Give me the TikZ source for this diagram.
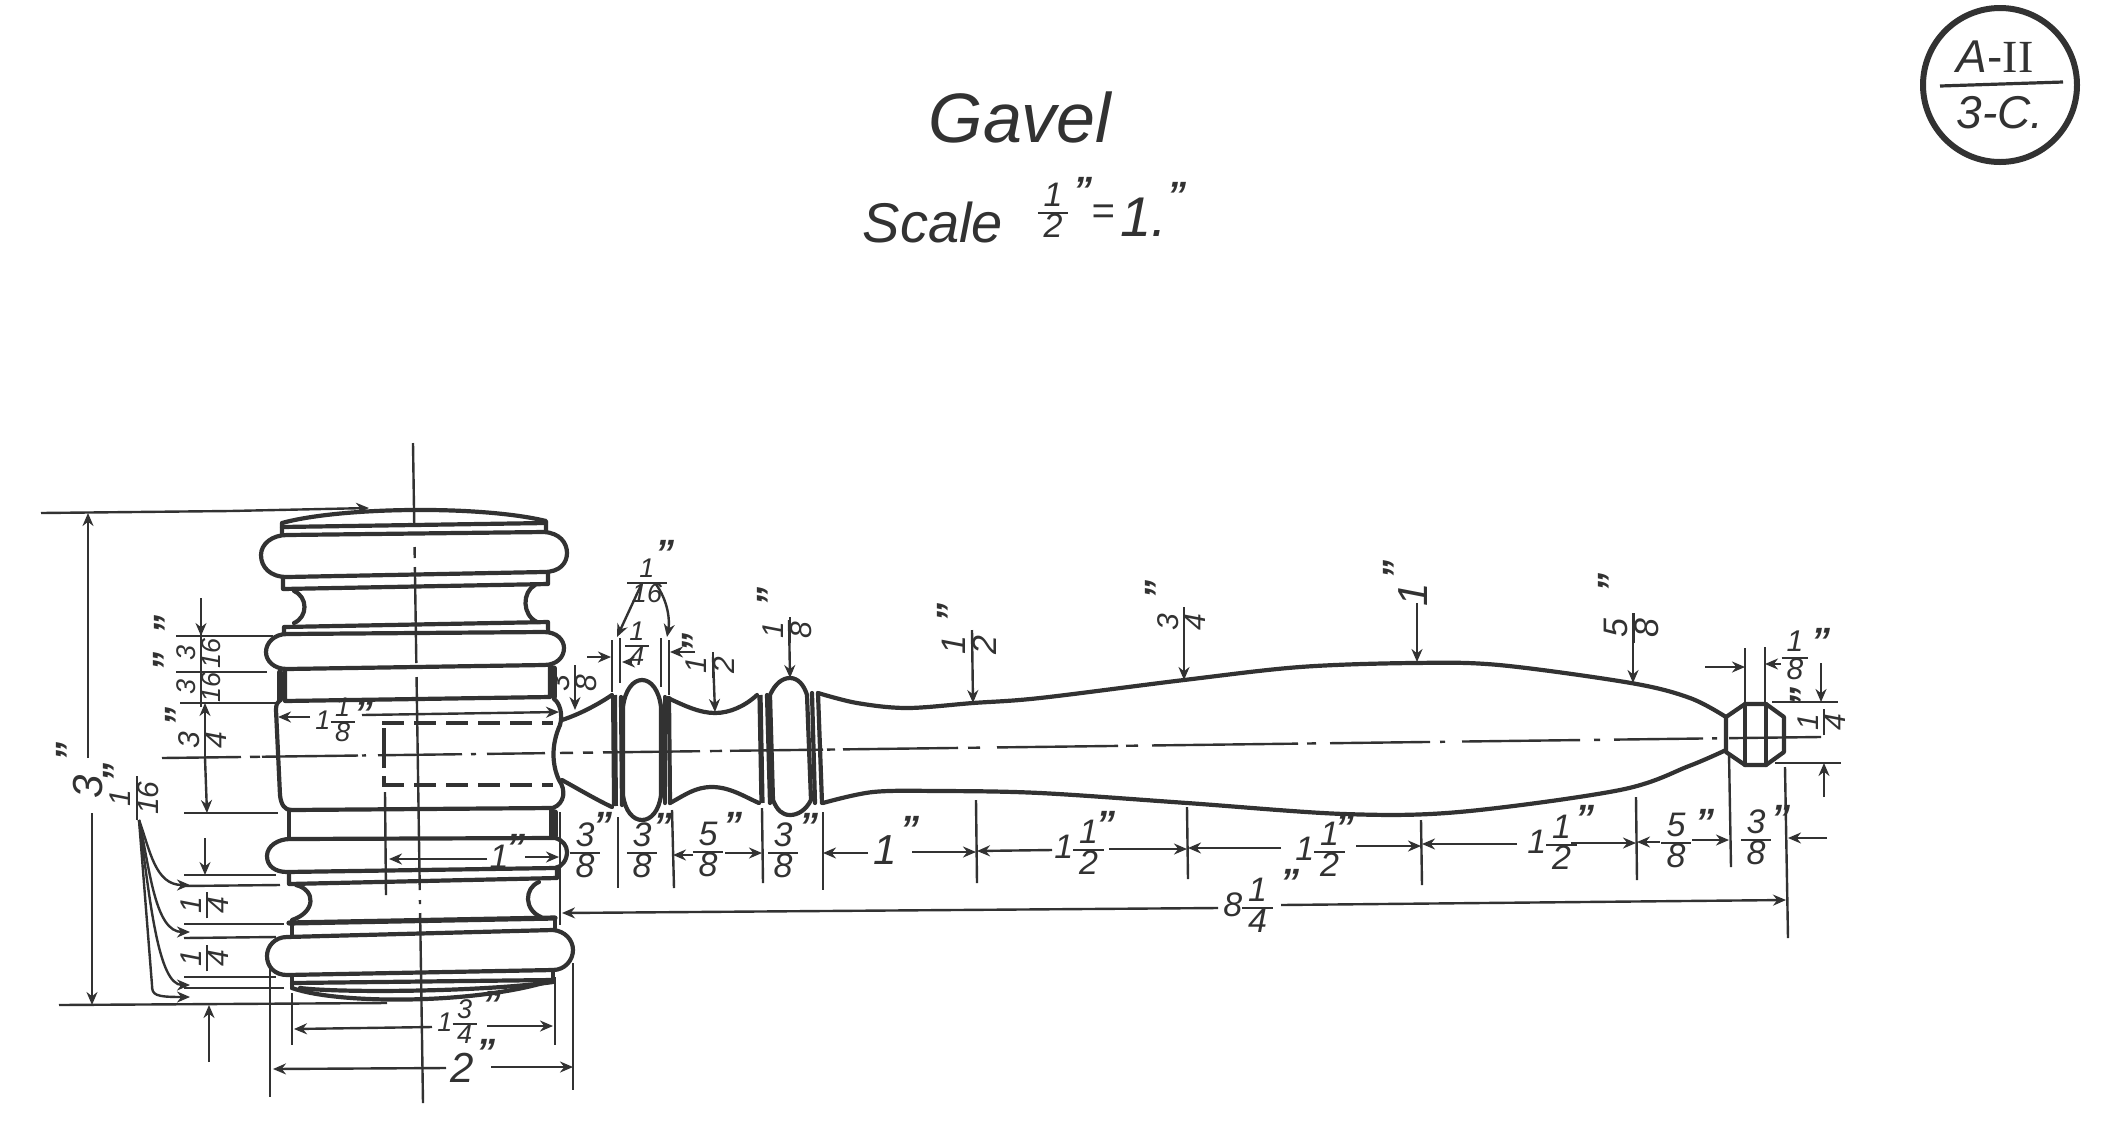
\documentclass[tikz,border=0pt]{standalone}
\usepackage{fontspec}
\setmainfont{Liberation Sans}
\newfontfamily\romfont{Liberation Serif}
\usepackage{xcolor}
\definecolor{inkgray}{RGB}{50, 50, 50}
\usepackage{tikz}
\usetikzlibrary{arrows.meta}
\setlength{\arrayrulewidth}{1pt}
\newcommand{\frc}[2]{{\renewcommand{\arraystretch}{0.55}\begin{tabular}{@{\,}c@{\,}}#1\\\hline#2\end{tabular}}}
\tikzset{
    outline/.style={line width=2.1pt, line join=round, line cap=round},
    thick2/.style={line width=2.6pt, line cap=round},
    dimline/.style={line width=1.2pt, -{Stealth[length=6.5pt,width=5.5pt]}},
    extline/.style={line width=1.2pt},
    cenline/.style={line width=1.2pt},
    holeline/.style={line width=2pt, dash pattern=on 11pt off 5pt},
    dimtxt/.style={inner sep=0pt, font=\itshape\fontsize{17}{17}\selectfont},
    dimsmall/.style={inner sep=0pt, font=\itshape\fontsize{15}{15}\selectfont},
    dimtiny/.style={inner sep=0pt, font=\itshape\fontsize{13.5}{13.5}\selectfont},
    dimbig/.style={inner sep=0pt, font=\itshape\fontsize{21}{21}\selectfont},
    dimq/.style={inner sep=0pt, font=\itshape\bfseries\fontsize{19}{19}\selectfont}
}
\begin{document}
\begin{tikzpicture}[x=0.5pt, y=-0.5pt, color=inkgray, text=inkgray]
    \useasboundingbox (0,0) rectangle (2101,1147);

    % Titles
    \node[inner sep=0pt, font=\itshape\fontsize{35}{35}\selectfont] (title) at (1020,117) {Gavel};
    \node[inner sep=0pt, font=\itshape\fontsize{28}{28}\selectfont] (scale) at (933,222) {Scale};
    \node[dimtxt] (scalefrc) at (1053,213) {\frc{1}{2}};
    \node[dimq] (scaleqa) at (1083,190) {"};
    \node[inner sep=0pt, font=\itshape\fontsize{20}{20}\selectfont] (scaleeq) at (1103,215) {=};
    \node[inner sep=0pt, font=\itshape\fontsize{28}{28}\selectfont] (scaleone) at (1144,217) {1.};
    \node[dimq] (scaleqb) at (1177,195) {"};

    % Sheet mark
    \node[circle, draw, line width=3pt, minimum size=77pt, inner sep=0pt] (mark) at (2000,85) {};
    \draw[line width=1.6pt] (1940,86) -- (2063,82);
    \node[inner sep=0pt, font=\fontsize{23}{23}\selectfont] (markup) at (1995,57) {\textit{A}-{\romfont II}};
    \node[inner sep=0pt, font=\itshape\fontsize{23}{23}\selectfont] (markdn) at (2000,113) {3-C.};

    % Head
    \draw[outline] (282,523) .. controls (340,507) and (480,505) .. (546,521) -- (546,532) (282,523) -- (282,535);
    \draw[outline] (282,527) -- (546,523);
    \draw[outline] (287,535) -- (544,532) .. controls (560,533) and (567,543) .. (567,553) .. controls (567,563) and (560,572) .. (544,572)
        -- (287,577) .. controls (270,577) and (261,567) .. (261,555) .. controls (261,544) and (272,535) .. (287,535) -- cycle;
    \draw[outline] (283,577) -- (283,589) -- (548,584) -- (548,572);
    \draw[outline] (294,591) .. controls (308,597) and (308,617) .. (294,623);
    \draw[outline] (535,585) .. controls (522,592) and (522,615) .. (537,622);
    \draw[outline] (284,633) -- (284,627) -- (548,622) -- (548,631);
    \draw[outline] (287,634) -- (544,632) .. controls (557,632) and (564,640) .. (564,648) .. controls (564,657) and (557,665) .. (544,665)
        -- (287,669) .. controls (274,669) and (266,661) .. (266,652) .. controls (266,643) and (274,634) .. (287,634) -- cycle;
    \draw[outline] (285,669) -- (285,701) -- (550,697) -- (550,665);
    \draw[thick2] (280,672) -- (280,700) (554,668) -- (554,697);
    \draw[outline] (280,700) .. controls (277,702) and (276,705) .. (276,710) -- (280,795) .. controls (281,805) and (285,810) .. (291,810);
    \draw[outline] (554,699) .. controls (560,703) and (563,715) .. (560,725) .. controls (551,745) and (552,765) .. (559,780)
        .. controls (566,790) and (565,803) .. (553,808);
    \draw[outline] (291,810) -- (553,808);
    \draw[outline] (289,810) -- (289,838) (551,808) -- (551,836);
    \draw[thick2] (555,812) -- (555,836);
    \draw[outline] (290,839) -- (555,838) .. controls (563,840) and (567,846) .. (567,852) .. controls (567,860) and (562,867) .. (555,868)
        -- (287,872) .. controls (275,872) and (267,866) .. (267,856) .. controls (267,846) and (278,839) .. (290,839) -- cycle;
    \draw[outline] (289,872) -- (289,884) -- (557,878) -- (557,868);
    \draw[outline] (296,885) .. controls (316,890) and (316,912) .. (292,920);
    \draw[outline] (539,882) .. controls (524,888) and (524,910) .. (541,917);
    \draw[thick2] (289,923) -- (555,918);
    \draw[outline] (292,923) -- (292,935) (555,918) -- (555,928);
    \draw[outline] (287,937) -- (553,930) .. controls (565,931) and (573,940) .. (573,950) .. controls (573,960) and (565,970) .. (553,970)
        -- (287,975) .. controls (275,975) and (267,967) .. (267,956) .. controls (267,946) and (275,937) .. (287,937) -- cycle;
    \draw[outline] (292,975) -- (292,988) (553,970) -- (553,980);
    \draw[outline] (292,983) -- (553,980);
    \draw[outline] (292,988) .. controls (340,1005) and (480,1004) .. (553,980);
    \draw[outline] (300,988) .. controls (340,993) and (480,992) .. (553,982);

    % Hole
    \draw[holeline] (382,723) -- (553,723);
    \draw[holeline] (382,785) -- (553,785);
    \draw[holeline, dash pattern=on 20pt off 4pt] (384,728) -- (384,785);

    % Center lines
    \foreach \ya/\yb in {443/524, 547/558, 567/663, 677/890, 900/904, 913/1103}
        \draw[cenline] ({413+0.01515*(\ya-443)},\ya) -- ({413+0.01515*(\yb-443)},\yb);
    \foreach \xa/\xb in {162/241, 250/260, 262/358, 362/366, 378/462, 471/476, 487/545, 560/573, 583/593, 603/700, 710/722, 730/823, 827/835, 843/958, 968/980, 997/1118, 1126/1138, 1152/1298, 1307/1316, 1330/1430, 1440/1445, 1462/1580, 1594/1600, 1614/1703, 1712/1717, 1729/1821}
        \draw[cenline] (\xa,{758-0.01266*(\xa-162)}) -- (\xb,{758-0.01266*(\xb-162)});

    % Handle
    \draw[outline] (562,720) .. controls (580,714) and (597,705) .. (612,695);
    \draw[outline] (562,780) .. controls (580,790) and (597,800) .. (612,807);
    \draw[line width=3pt] (614,695) -- (615,806);
    \draw[outline] (621,697) -- (622,805);
    \draw[outline] (623,707) .. controls (625,690) and (633,680) .. (642,680) .. controls (651,680) and (659,690) .. (661,707)
        -- (661,795) .. controls (659,811) and (651,820) .. (642,820) .. controls (633,820) and (625,811) .. (623,795) -- cycle;
    \draw[outline] (665,697) -- (665,803);
    \draw[outline] (669,698) -- (670,803);
    \draw[outline] (668,698) .. controls (685,706) and (700,713) .. (715,713) .. controls (730,713) and (745,706) .. (757,695);
    \draw[outline] (670,803) .. controls (685,795) and (695,787) .. (712,787) .. controls (730,787) and (745,797) .. (759,803);
    \draw[line width=2.6pt] (760,695) -- (762,803);
    \draw[outline] (767,695) -- (770,803);
    \draw[outline] (770,695) .. controls (775,684) and (782,678) .. (790,678) .. controls (798,678) and (804,685) .. (807,695)
        -- (811,800) .. controls (806,810) and (798,815) .. (790,815) .. controls (782,815) and (777,810) .. (773,800) -- cycle;
    \draw[outline] (812,693) -- (815,803);
    \draw[outline] (818,693) -- (822,803);
    \draw[outline] plot[smooth, tension=.55] coordinates {(818,693) (857,703) (907,708) (973,703) (1040,698) (1184,680) (1300,667) (1413,663) (1499,665) (1631,683) (1690,698) (1726,717)};
    \draw[outline] plot[smooth, tension=.55] coordinates {(823,803) (873,792) (940,791) (1040,793) (1187,803) (1344,814) (1459,812) (1620,790) (1689,766) (1726,750)};

    % Ball end
    \draw[outline] (1726,717) -- (1745,704) -- (1766,704) -- (1784,717) -- (1784,752) -- (1766,765) -- (1745,765) -- (1726,752) -- cycle;
    \draw[outline] (1745,704) -- (1745,765);
    \draw[outline] (1766,704) -- (1766,765);

    % Extension lines, head
    \draw[extline] (41,513) -- (230,511);
    \draw[dimline] (230,511) -- (369,508);
    \draw[extline] (59,1005) -- (387,1003);
    \draw[extline] (176,636) -- (273,636);
    \draw[extline] (176,672) -- (267,672);
    \draw[extline] (180,703) -- (276,703);
    \draw[extline] (184,813) -- (278,813);
    \draw[extline] (184,875) -- (276,875);
    \draw[extline] (184,886) -- (280,885);
    \draw[extline] (184,924) -- (284,924);
    \draw[extline] (184,938) -- (276,937);
    \draw[extline] (184,977) -- (276,977);
    \draw[extline] (184,988) -- (284,988);
    \draw[extline] (385,792) -- (386,895);
    \draw[extline] (560,812) -- (560,925);
    \draw[extline] (292,993) -- (292,1045);
    \draw[extline] (555,977) -- (555,1045);
    \draw[extline] (270,967) -- (270,1097);
    \draw[extline] (573,963) -- (573,1090);

    % Extension lines, handle
    \draw[extline] (612,640) -- (612,692);
    \draw[extline] (620,638) -- (620,683);
    \draw[extline] (661,638) -- (661,687);
    \draw[extline] (669,640) -- (669,695);
    \draw[extline] (618,817) -- (618,888);
    \draw[extline] (672,810) -- (674,888);
    \draw[extline] (762,808) -- (763,883);
    \draw[extline] (823,812) -- (823,890);
    \draw[extline] (976,800) -- (977,883);
    \draw[extline] (1187,807) -- (1188,879);
    \draw[extline] (1421,820) -- (1422,885);
    \draw[extline] (1636,797) -- (1637,880);
    \draw[extline] (1729,753) -- (1731,867);
    \draw[extline] (1785,767) -- (1788,938);
    \draw[extline] (1745,648) -- (1745,704);
    \draw[extline] (1765,647) -- (1765,704);
    \draw[extline] (1772,702) -- (1838,702);
    \draw[extline] (1775,763) -- (1841,763);

    % Dimension arrows, head
    \draw[dimline] (88,758) -- (88,513);
    \draw[dimline] (92,813) -- (92,1005);
    \draw[dimline] (201,598) -- (201,636);
    \draw[dimline] (205,758) -- (205,703);
    \draw[dimline] (205,758) -- (207,813);
    \draw[dimline] (205,838) -- (205,875);
    \draw[dimline] (209,1062) -- (209,1005);
    \draw[dimline] (310,717) -- (278,717);
    \draw[dimline] (362,715) -- (559,712);
    \draw[dimline] (487,859) -- (389,859);
    \draw[dimline] (525,857) -- (559,857);
    \draw[dimline] (432,1027) -- (294,1029);
    \draw[dimline] (487,1026) -- (553,1026);
    \draw[dimline] (446,1068) -- (273,1069);
    \draw[dimline] (491,1067) -- (573,1067);

    % Leaders from the 1/16
    \draw[dimline] (139,820) .. controls (150,850) and (155,885) .. (190,885);
    \draw[dimline] (139,820) .. controls (150,870) and (155,932) .. (190,932);
    \draw[dimline] (139,820) .. controls (150,900) and (158,985) .. (190,985);
    \draw[dimline] (139,820) -- (152,985) .. controls (152,995) and (155,997) .. (190,997);

    % Dimension arrows above the handle
    \draw[dimline] (575,665) -- (575,710);
    \draw[dimline] (642,583) -- (617,637);
    \draw[dimline] (655,583) .. controls (668,600) and (670,620) .. (667,637);
    \draw[dimline] (587,657) -- (611,657);
    \draw[dimline] (632,662) -- (622,662);
    \draw[dimline] (695,652) -- (670,652);
    \draw[dimline] (713,657) -- (715,712);
    \draw[dimline] (789,620) -- (790,678);
    \draw[dimline] (972,630) -- (973,703);
    \draw[dimline] (1184,607) -- (1184,680);
    \draw[dimline] (1417,603) -- (1417,662);
    \draw[dimline] (1633,613) -- (1633,683);
    \draw[dimline] (1705,667) -- (1745,667);
    \draw[dimline] (1781,664) -- (1765,664);
    \draw[dimline] (1821,663) -- (1821,702);
    \draw[dimline] (1824,797) -- (1824,763);

    % Dimension arrows below the handle
    \draw[dimline] (693,855) -- (673,855);
    \draw[dimline] (725,853) -- (762,853);
    \draw[dimline] (868,853) -- (823,853);
    \draw[dimline] (912,852) -- (976,852);
    \draw[dimline] (1052,850) -- (977,851);
    \draw[dimline] (1109,849) -- (1187,849);
    \draw[dimline] (1281,848) -- (1188,848);
    \draw[dimline] (1356,846) -- (1421,846);
    \draw[dimline] (1517,844) -- (1422,844);
    \draw[dimline] (1571,843) -- (1636,843);
    \draw[dimline] (1660,842) -- (1637,842);
    \draw[dimline] (1692,840) -- (1729,840);
    \draw[dimline] (1827,838) -- (1788,838);
    \draw[dimline] (1218,908) -- (562,913);
    \draw[dimline] (1281,905) -- (1786,900);

    % Labels, head
    \node[dimbig, rotate=90] (lb3) at (88,787) {3};
    \node[dimq, rotate=90] (lq3) at (69,752) {"};
    \node[dimtiny, rotate=90] (lb316a) at (201,653) {\frc{3}{16}};
    \node[dimq, rotate=90] (lq316a) at (167,625) {"};
    \node[dimtiny, rotate=90] (lb316b) at (201,687) {\frc{3}{16}};
    \node[dimq, rotate=90] (lq316b) at (166,662) {"};
    \node[dimsmall, rotate=90] (lb34) at (205,740) {\frc{3}{4}};
    \node[dimq, rotate=90] (lq34) at (178,717) {"};
    \node[dimsmall, rotate=90] (lb116) at (137,798) {\frc{1}{16}};
    \node[dimq, rotate=90] (lq116) at (116,773) {"};
    \node[dimsmall, rotate=90] (lb14a) at (207,905) {\frc{1}{4}};
    \node[dimsmall, rotate=90] (lb14b) at (207,958) {\frc{1}{4}};
    \node[dimtiny] (lb118) at (335,722) {1\frc{1}{8}};
    \node[dimq] (lq118) at (364,713) {"};
    \node[dimtxt] (lb1) at (499,857) {1};
    \node[dimq] (lq1) at (516,847) {"};
    \node[dimtiny] (lb134) at (457,1024) {1\frc{3}{4}};
    \node[dimq] (lq134) at (492,1004) {"};
    \node[dimbig] (lb2) at (462,1068) {2};
    \node[dimq] (lq2) at (486,1052) {"};

    % Labels above the handle
    \node[dimsmall, rotate=90] (lc38) at (575,683) {\frc{3}{8}};
    \node[dimtiny] (lc116) at (647,583) {\frc{1}{16}};
    \node[dimq] (lcq116) at (665,553) {"};
    \node[dimtiny] (lc14) at (637,646) {\frc{1}{4}};
    \node[dimsmall, rotate=90] (lc12) at (713,665) {\frc{1}{2}};
    \node[dimq, rotate=90] (lcq12) at (695,643) {"};
    \node[dimsmall, rotate=90] (lc18) at (790,630) {\frc{1}{8}};
    \node[dimq, rotate=90] (lcq18) at (770,597) {"};
    \node[dimtxt, rotate=90] (ld12) at (972,645) {\frc{1}{2}};
    \node[dimq, rotate=90] (ldq12) at (950,613) {"};
    \node[dimsmall, rotate=90] (ld34) at (1184,622) {\frc{3}{4}};
    \node[dimq, rotate=90] (ldq34) at (1158,590) {"};
    \node[dimbig, rotate=90] (ld1) at (1413,595) {1};
    \node[dimq, rotate=90] (ldq1) at (1396,570) {"};
    \node[dimtxt, rotate=90] (ld58) at (1634,628) {\frc{5}{8}};
    \node[dimq, rotate=90] (ldq58) at (1611,583) {"};
    \node[dimsmall] (le18) at (1795,658) {\frc{1}{8}};
    \node[dimq] (leq18) at (1821,641) {"};
    \node[dimsmall, rotate=90] (le14) at (1824,722) {\frc{1}{4}};
    \node[dimq, rotate=90] (leq14) at (1803,697) {"};

    % Labels below the handle
    \node[dimtxt] (lf38a) at (585,853) {\frc{3}{8}};
    \node[dimq] (lfq38a) at (603,825) {"};
    \node[dimtxt] (lf38b) at (642,853) {\frc{3}{8}};
    \node[dimq] (lfq38b) at (663,826) {"};
    \node[dimtxt] (lf58) at (708,852) {\frc{5}{8}};
    \node[dimq] (lfq58) at (733,825) {"};
    \node[dimtxt] (lf38c) at (783,853) {\frc{3}{8}};
    \node[dimq] (lfq38c) at (809,826) {"};
    \node[dimbig] (lf1) at (885,850) {1};
    \node[dimq] (lfq1) at (910,829) {"};
    \node[dimtxt] (lf112a) at (1079,850) {1\frc{1}{2}};
    \node[dimq] (lfq112a) at (1106,824) {"};
    \node[dimtxt] (lf112b) at (1320,852) {1\frc{1}{2}};
    \node[dimq] (lfq112b) at (1345,827) {"};
    \node[dimtxt] (lf112c) at (1552,845) {1\frc{1}{2}};
    \node[dimq] (lfq112c) at (1585,818) {"};
    \node[dimtxt] (lf58b) at (1676,843) {\frc{5}{8}};
    \node[dimq] (lfq58b) at (1705,822) {"};
    \node[dimtxt] (lf38d) at (1756,840) {\frc{3}{8}};
    \node[dimq] (lfq38d) at (1781,818) {"};
    \node[dimtxt] (lf814) at (1248,908) {8\frc{1}{4}};
    \node[dimq] (lfq814) at (1290,882) {"};
\end{tikzpicture}
\end{document}
